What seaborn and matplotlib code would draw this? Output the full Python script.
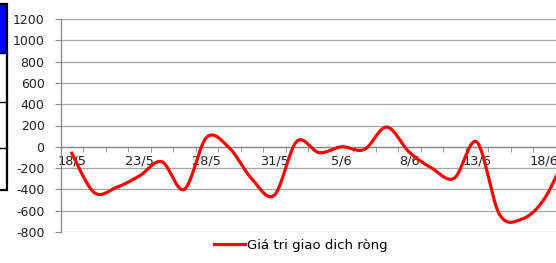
import numpy as np
import pandas as pd
import matplotlib
matplotlib.use("Agg")
import matplotlib.pyplot as plt
import seaborn as sns
from matplotlib.patches import Rectangle
from matplotlib.lines import Line2D

dates = ["18/5", "21/5", "22/5", "23/5", "24/5", "25/5", "28/5", "29/5", "30/5", "31/5",
         "1/6", "4/6", "5/6", "6/6", "7/6", "8/6", "11/6", "12/6", "13/6", "14/6",
         "15/6", "18/6", "19/6"]
values = [-60, -430, -380, -275, -140, -400, 90, -10, -300, -455,
          50, -55, 0, -25, 185, -50, -200, -295, 45, -630,
          -680, -490, -60]
series_name = "Giá tri giao dich ròng"
y_ticks = list(range(-800, 1201, 200))

plt.rcParams['font.family'] = ['DejaVu Sans']

W, H = 556, 263
fig = plt.figure(figsize=(W / 100, H / 100), dpi=100)

# plot area (extends past right edge, clipped like reference)
left_px, right_px, top_px, bot_px = 60.5, 578, 19, 232
ax = fig.add_axes([left_px / W, 1 - bot_px / H, (right_px - left_px) / W, (bot_px - top_px) / H])

# Excel-like smoothed line (Bezier through the points)
x = np.arange(len(values), dtype=float)
y = np.array(values, dtype=float)
n = len(x)
xs, ys = [], []
t = np.linspace(0, 1, 30)
for i in range(n - 1):
    p0 = np.array([x[i], y[i]])
    p3 = np.array([x[i + 1], y[i + 1]])
    pm = np.array([x[max(i - 1, 0)], y[max(i - 1, 0)]])
    pp = np.array([x[min(i + 2, n - 1)], y[min(i + 2, n - 1)]])
    c1 = p0 + (p3 - pm) / 6
    c2 = p3 - (pp - p0) / 6
    pts = ((1 - t)[:, None] ** 3 * p0 + 3 * ((1 - t) ** 2 * t)[:, None] * c1
           + 3 * ((1 - t) * t ** 2)[:, None] * c2 + (t ** 3)[:, None] * p3)
    xs.extend(pts[:, 0]); ys.extend(pts[:, 1])
df = pd.DataFrame({"x": xs, "y": ys})

sns.lineplot(data=df, x="x", y="y", sort=False, estimator=None, color="#ff0000",
             linewidth=2.3, ax=ax, zorder=3)

ax.set_xlim(-0.5, 22.5)
ax.set_ylim(-800, 1200)
ax.set_yticks(y_ticks)
ax.set_yticklabels([str(v) for v in y_ticks])
ax.grid(axis='y', color='#a6a6a6', linewidth=0.9, zorder=0)
ax.set_axisbelow(True)
ax.set_xlabel("")
ax.set_ylabel("")

for s in ['top', 'right']:
    ax.spines[s].set_visible(False)
ax.spines['left'].set_color('#888888')
ax.spines['bottom'].set_color('#888888')
ax.spines['bottom'].set_position(('data', 0))
ax.spines['left'].set_linewidth(0.9)
ax.spines['bottom'].set_linewidth(0.9)

ax.set_xticks(x[::3])
ax.set_xticklabels(dates[::3])
ax.set_xticks(np.arange(-0.5, 23, 1), minor=True)
ax.tick_params(axis='x', which='major', length=0, pad=5.5, labelsize=9.3, colors='#222222')
ax.tick_params(axis='x', which='minor', length=3.5, direction='out', color='#888888')
ax.tick_params(axis='y', length=4, color='#888888', labelsize=9, labelcolor='#222222', pad=7.5)

# legend
leg = fig.legend(handles=[Line2D([0], [0], color='#ff0000', lw=2.3)], labels=[series_name],
                 loc='center', bbox_to_anchor=(300.5 / W, 1 - 245 / H), frameon=False,
                 fontsize=9.5, handlelength=2.4, handletextpad=0.1)

# partial box at left edge
def fx(px):
    return px / W
def fy(py):
    return 1 - py / H
fig.patches.append(Rectangle((fx(-5), fy(53)), fx(11.5), fy(4) - fy(53), transform=fig.transFigure,
                             facecolor='#0000ff', edgecolor='none', zorder=5))
fig.patches.append(Rectangle((fx(-5), fy(190)), fx(11.5), fy(4) - fy(190), transform=fig.transFigure,
                             facecolor='none', edgecolor='black', linewidth=1.6, zorder=6))
for py in [53, 101.5, 148]:
    fig.lines.append(Line2D([fx(-5), fx(6.5)], [fy(py), fy(py)], transform=fig.transFigure,
                            color='black', linewidth=1.0, zorder=6))

fig.savefig("out.png", dpi=100)
